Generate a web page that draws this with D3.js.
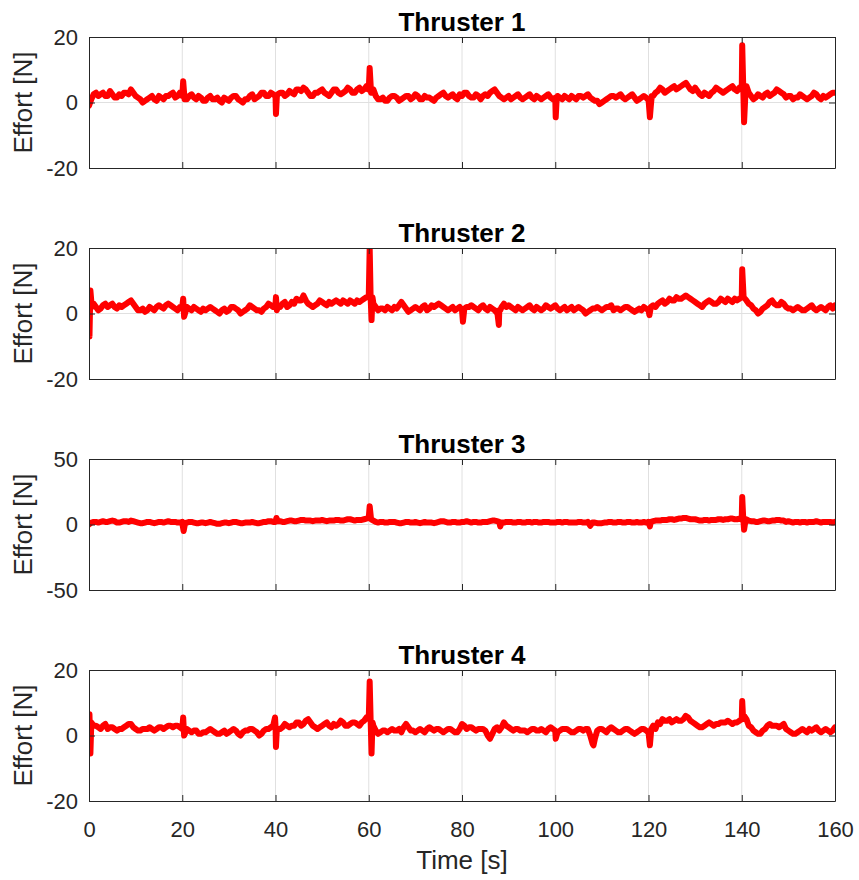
<!DOCTYPE html>
<html>
<head>
<meta charset="utf-8">
<script src="https://cdn.jsdelivr.net/npm/d3@7"></script>
<style>
  body { margin: 0; background: #fff; }
  svg text { font-family: "Liberation Sans", Arial, sans-serif; }
</style>
</head>
<body>
<div id="chart"></div>
<script>
// thruster effort [N] read every second, t = 0..160 s
let thruster1 = [-1,2.5,2,3,2,2.5,1.5,2,3,4,2,1,0.5,1.5,1,2,1,2,3,2,
  2,1,2.5,1,1.5,0.5,2,1,0.5,1.5,0.5,2,1,0,1,2.5,1.5,3,2,3,
  2,3,2,3.5,2.5,4,4.5,3,2,3,4,2.5,3,4,2.5,3.5,4,3,4.5,4,
  4,4,1,1.5,0.5,2,1.5,1,2,1,2.5,1,2,1.5,0.5,2,3,1.5,2.5,1,
  2,3,1.5,2.5,1,2.5,3,4,2,1,2,1.5,2.5,1,2,1.5,2,1,2,1.5,
  1.5,1.5,2,1,1.5,2,1.5,2.5,1,0.5,0,1,2,1.5,2.5,1,2,1.5,1,2,
  1,2,3.5,4,3.5,4.5,4,5,6,4,4.5,2.5,3,2,3.5,4,3,4,5,3.5,
  4,5,2,1.5,2,2.5,2,3,3.5,2.5,2,1,1.5,2,1,2,2.5,1,1.5,2.5,3];
// readings in between, t = 0.5..159.5 s
let thruster1Half = [1,3,2.5,2,3.5,1.5,2.5,3,2.5,3,1.5,0,1,2,0.5,1.5,2,2.5,1.5,3,
  1,2,1.5,2,0.5,1.5,1,1.5,0,1,1.5,2,0.5,1,2,1,2,3,2,2.5,
  2.5,3,2.5,3,4,3.5,4,2,3,3.5,3,2,4,3,3,4.5,3,4,3.5,5,
  3,2,1,0.5,1.5,2,0.5,1.5,2,1.5,2,1,1.5,1,1.5,2.5,2,2,1.5,2.5,
  3,2,1.5,2,2,2,3.5,3,1.5,1.5,1,2,1.5,1.5,2.5,1,1.5,1.5,2.5,1,
  2,1,1.5,2,1,2,2,1.5,0.5,-0.5,0.5,1.5,2,2,1.5,1.5,2.5,0.5,1.5,1.5,
  -1,3,4.5,3,4,5,4.5,5.5,5,3.5,3.5,2,2.5,3,4.5,3.5,3.5,4.5,4,4.5,
  -5,3,1,2.5,1.5,3,2.5,4,3,1.5,2,1.5,2.5,1.5,1.5,3,1.5,2,2,3];
let spikes1 = [[20.2,6.5],[20.5,1],[39.9,2],[40.1,-3.5],[40.3,2],[59.8,4],[60.2,10.5],[60.5,3],
  [100.1,-4.5],[100.3,1],[119.8,1],[120.3,-4.5],[120.7,2],
  [139.8,4],[140.1,17.5],[140.3,6],[140.5,-6],[140.8,3]];

let thruster2 = [0,3,1,2.5,2,3,1.5,2,3,4,2,1,0.5,2,1,2.5,1.5,3,2,1,
  2,2,1,1.5,0.5,1,2,1,0,1.5,1,2,1,0.5,1.5,2,1,0.5,2,2.5,
  3,2,3.5,2.5,3,4,5.5,3,2,3,3.5,2.5,3,4,3,3.5,4,3,3.5,4.5,
  5,3,1,1.5,2,1,1.5,3.5,1.5,1,2,1,2.5,1.5,2,3,2,1,2,1.5,
  1,2,2.5,1.5,2,1.5,2,1,1,3,2.5,1.5,2,1,2,1.5,2,1,2.5,1.5,
  2.5,1,2,1.5,1,2,1,0.5,1.5,2,1,2,2.5,1.5,1,2,1.5,0.5,1.5,2,
  1,2.5,3,4,3.5,4,5,4.5,5.5,4.5,3.5,2.5,3,4,3,3.5,4,4.5,3.5,4,
  5,4,2.5,1,0.5,2,3.5,3,2.5,3,1.5,1,2,1,1.5,2.5,1,2,1,2.5,2.5];
let thruster2Half = [2,2,1.5,3,2.5,2,2.5,2.5,3.5,3,1,1.5,1,1.5,2,2,2.5,2.5,1.5,2,
  0.5,1.5,2,1,1.5,1.5,1.5,0.5,1,0.5,2,1.5,0,1,2.5,1.5,1,1.5,3,2,
  2.5,3,2,3.5,4.5,4,4,2.5,2.5,4,3,3.5,3.5,3.5,4,3,3.5,4,4,5,
  -2,2,1.5,1,1.5,2,2.5,2.5,0.5,1.5,1.5,2,1,2.5,2.5,2.5,1.5,1.5,1,2,
  1.5,2,2,1,2.5,1,1.5,0,2,2,2,1,1.5,1.5,2.5,1,1.5,1.5,2,2,
  1.5,1.5,1,2,1.5,1.5,0,1,1.5,1.5,1.5,2,1,1.5,1.5,2,1,1,1,1.5,
  2,2,3.5,3,4.5,4,4.5,5,5,4,3,2,3.5,3.5,3,4.5,3.5,4,4.5,4.5,
  4.5,3,1.5,0,1.5,2.5,4,2.5,3.5,2,1.5,1.5,1.5,1,2,1.5,1.5,1.5,2,1.5];
let spikes2 = [[0.1,-7],[0.3,7],[0.6,2],[20.2,4.5],[20.4,-1],[40.1,5],[40.3,1],
  [60.2,20],[60.4,5],[60.6,-2],[60.8,5],[80.2,-2.5],[80.5,1.5],
  [87.6,0],[87.9,-3.5],[88.2,1],[120.2,-0.5],[140.1,13.5],[140.4,5]];

let thruster3 = [0,2,1.5,2.5,2,3,1.5,2,2.5,3,2,1,1.5,2,1,2,1.5,2.5,2,1.5,
  2,1.5,2,1,1.5,1,2,1,0.5,1.5,1,2,1.5,1,1.5,2,1,1.5,2,2.5,
  2,2.5,2,3,2.5,3,3.5,3,2.5,3,3.5,2.5,3,3.5,3,3.5,4,3,3.5,4,
  5,3,1.5,2,1.5,2,1.5,1,2,1.5,2,1,2,1.5,1,2,2.5,1.5,2,1.5,
  2,2.5,1.5,2,1.5,2,2.5,3,2,1.5,2,1.5,2,1.5,2,1.5,2,1.5,2,1.5,
  1.5,2,2,1.5,1.5,2,1.5,2,1.5,1,1,1.5,2,1.5,2,1.5,2,1.5,1.5,2,
  2,2.5,3,3.5,3.5,4,4,4.5,5,4,4,3,3.5,3,3.5,4,3.5,4,4.5,4,
  5,4,2.5,2,2.5,3,2.5,3,3.5,3,2.5,1.5,2,2,1.5,2,2.5,1.5,2,2,2];
let thruster3Half = [1.5,2,2,2,2.5,2.5,1.5,2.5,2,2.5,1.5,1,2,1.5,1.5,2,2,2,2,1.5,
  1.5,2,1.5,1,1.5,1.5,1.5,0.5,1,1.5,1.5,2,1,1.5,1.5,1.5,1,2,2.5,2,
  2.5,2,2.5,3,2.5,3.5,3,3,3,3,3,3,3,3.5,3,4,3.5,3.5,3.5,4.5,
  4,2,2,1.5,2,2,1,1.5,2,1.5,1.5,1.5,1.5,1.5,1.5,2.5,2,1.5,2,1.5,
  2,2,2,1.5,2,2,3,2.5,1.5,2,2,1.5,2,1.5,2,2,1.5,2,2,1.5,
  2,1.5,2,1.5,1.5,2,1.5,1,1.5,1,1.5,2,1.5,2,1.5,2,1.5,2,1.5,1.5,
  2,3,3,3.5,4,3.5,4.5,5,4.5,4,3.5,3,3.5,3.5,3.5,4,4,4.5,4,4.5,
  -4,3,2.5,2,3,2.5,3,3.5,3,2,2,2,1.5,2,2,2,2,2,2,1.5];
let spikes3 = [[20.1,-1],[20.3,-5],[20.6,1],[40.2,5],[60.2,14],[60.5,4],[88.2,-1.5],[107.5,-1],
  [119.9,1],[120.3,-1.5],[139.8,4],[140.1,21],[140.3,6],[140.5,-4],[140.8,3]];

let thruster4 = [0,3,2.5,3,2,2.5,1.5,2,3,3.5,2,1.5,2,2.5,1.5,2.5,2,3,2.5,3,
  2,2,1,1.5,0.5,1,2,1,0.5,1.5,1,2,0.5,1,1.5,2,1,0.5,2,2.5,
  3,2,3.5,2.5,3,4,3.5,5,3,2,3,4,2.5,3,4.5,3,3.5,4,3,4.5,
  5,3,0.5,1.5,1,2,1.5,1,3.5,1.5,1,2,1,2.5,1.5,2,1,2,1.5,1,
  3.5,2,2.5,1.5,2,1.5,-1,2,1.5,4,2.5,1.5,2,1.5,1,2,1.5,2,1,2.5,
  1.5,1.5,2,1.5,1,2,1.5,2,-2.5,1.5,2,1,2.5,1.5,1,2,1.5,0.5,1.5,2,
  1,3,4,5,4.5,4,5,4.5,6,4.5,3.5,2.5,3,4,3,3.5,4,4.5,3.5,4,
  5,5,2.5,1,0.5,2,3.5,3,2.5,3.5,1.5,0.5,1,2,1,1.5,2.5,1,2,1,2.5];
let thruster4Half = [4,3,2,3.5,2.5,2,2,2.5,3.5,2.5,1.5,2,2,2,2,2.5,2.5,3,3,2.5,
  1,1.5,1.5,0.5,1,1.5,1.5,0.5,1,0.5,1.5,1.5,0,1.5,2,1.5,0,1.5,2,3,
  2,2.5,3,3,4,3,4.5,4,2.5,2.5,3.5,3,3.5,3.5,4,3,4,3.5,4,5.5,
  3.5,1.5,1,1.5,1.5,1.5,2,2.5,2.5,1.5,1.5,1.5,2,2,2,1.5,1.5,2,1,2,
  3,2.5,2,2,2,0,0.5,2.5,2.5,3,2,2,1.5,1.5,1.5,2,1.5,1.5,2,2,
  1,2,2,1,1.5,2,2,0,-1,2,1.5,2,2,1,1.5,2,1,1,2,1.5,
  2,2,3.5,4.5,5,4.5,4.5,5,5.5,4,3,2.5,3.5,3.5,3.5,4,4,4,4,4.5,
  6,3,1.5,0.5,1.5,3,3,3,3,2,1,0.5,1.5,1.5,2,2,1.5,1.5,1.5,1.5];
let spikes4 = [[0.1,6.5],[0.3,-5.5],[0.5,4],[20.2,5.5],[20.4,0],[39.9,5.5],[40.1,-3.5],[40.3,2],
  [60.2,16.5],[60.4,5],[60.6,-5.5],[60.8,4],[100.1,-1],[108.2,-3],[119.9,1],[120.3,-3],[120.6,2],
  [140.1,10.5],[140.3,5]];

let seriesValues = [thruster1, thruster2, thruster3, thruster4];
let seriesHalf = [thruster1Half, thruster2Half, thruster3Half, thruster4Half];
let seriesSpikes = [spikes1, spikes2, spikes3, spikes4];
let titles = ["Thruster 1", "Thruster 2", "Thruster 3", "Thruster 4"];
let yLimits = [[-20, 20], [-20, 20], [-50, 50], [-20, 20]];
let yTickValues = [[-20, 0, 20], [-20, 0, 20], [-50, 0, 50], [-20, 0, 20]];
let xTickValues = [0, 20, 40, 60, 80, 100, 120, 140, 160];

let width = 859, height = 880;
let left = 89, right = 835;
let plotTops = [37, 248, 459, 670];
let plotH = 131;
let axisColor = "#262626";
let fontFamily = "'Liberation Sans', Arial, sans-serif";

let svg = d3.select("#chart").append("svg")
    .attr("width", width)
    .attr("height", height);

let x = d3.scaleLinear().domain([0, 160]).range([left, right]);

seriesValues.forEach(function(vals, i) {
    let top = plotTops[i];
    let y = d3.scaleLinear().domain(yLimits[i]).range([top + plotH, top]);

    // merge the whole-second, half-second and spike readings
    let spikes = seriesSpikes[i];
    let halves = seriesHalf[i].map((v, k) => [k + 0.5, v])
        .filter(p => !spikes.some(s => Math.abs(s[0] - p[0]) < 0.15));
    let pts = vals.map((v, t) => [t, v]).concat(halves, spikes);
    pts.sort((a, b) => a[0] - b[0]);

    let g = svg.append("g");

    // grid
    g.selectAll(".vgrid").data(xTickValues.slice(1, -1)).enter().append("line")
        .attr("x1", d => x(d)).attr("x2", d => x(d))
        .attr("y1", top).attr("y2", top + plotH)
        .style("stroke", "#e0e0e0").style("stroke-width", 1);
    g.selectAll(".hgrid").data(yTickValues[i].slice(1, -1)).enter().append("line")
        .attr("x1", left).attr("x2", right)
        .attr("y1", d => y(d)).attr("y2", d => y(d))
        .style("stroke", "#e0e0e0").style("stroke-width", 1);

    // data line
    svg.append("clipPath").attr("id", "clip" + i)
        .append("rect").attr("x", left).attr("y", top).attr("width", right - left).attr("height", plotH);

    g.append("path")
        .datum(pts)
        .attr("clip-path", "url(#clip" + i + ")")
        .attr("d", d3.line().x(d => x(d[0])).y(d => y(d[1])))
        .style("fill", "none")
        .style("stroke", "#ff0000")
        .style("stroke-width", 6)
        .style("stroke-linejoin", "round")
        .style("stroke-linecap", "round");

    // axes with inward ticks
    let bottomAxis = d3.axisBottom(x).tickValues(xTickValues).tickSizeInner(-6).tickSizeOuter(0)
        .tickFormat(i === 3 ? d3.format("d") : "");
    let topAxis = d3.axisTop(x).tickValues(xTickValues).tickSizeInner(-6).tickSizeOuter(0).tickFormat("");
    let leftAxis = d3.axisLeft(y).tickValues(yTickValues[i]).tickSizeInner(-6).tickSizeOuter(0)
        .tickFormat(d => d3.format("d")(d).replace("−", "-"));
    let rightAxis = d3.axisRight(y).tickValues(yTickValues[i]).tickSizeInner(-6).tickSizeOuter(0).tickFormat("");

    let axes = [
        g.append("g").attr("transform", "translate(0," + (top + plotH) + ")").call(bottomAxis),
        g.append("g").attr("transform", "translate(0," + top + ")").call(topAxis),
        g.append("g").attr("transform", "translate(" + left + ",0)").call(leftAxis),
        g.append("g").attr("transform", "translate(" + right + ",0)").call(rightAxis)
    ];
    axes.forEach(a => {
        a.select(".domain").style("stroke", axisColor).style("stroke-width", 1);
        a.selectAll(".tick line").style("stroke", axisColor);
        a.selectAll("text").style("fill", axisColor).style("font-size", "22px")
            .style("font-family", fontFamily);
    });
    axes[2].selectAll("text").attr("x", -11);
    axes[0].selectAll("text").attr("y", 20);

    // title
    g.append("text")
        .attr("x", (left + right) / 2)
        .attr("y", top - 6)
        .attr("text-anchor", "middle")
        .style("font-size", "26px")
        .style("font-weight", "bold")
        .style("fill", "#000")
        .text(titles[i]);

    // y label
    g.append("text")
        .attr("transform", "translate(32," + (top + plotH / 2) + ") rotate(-90)")
        .attr("text-anchor", "middle")
        .style("font-size", "26px")
        .style("fill", axisColor)
        .text("Effort [N]");
});

svg.append("text")
    .attr("x", (left + right) / 2)
    .attr("y", 869)
    .attr("text-anchor", "middle")
    .style("font-size", "26px")
    .style("fill", axisColor)
    .text("Time [s]");
</script>
</body>
</html>
